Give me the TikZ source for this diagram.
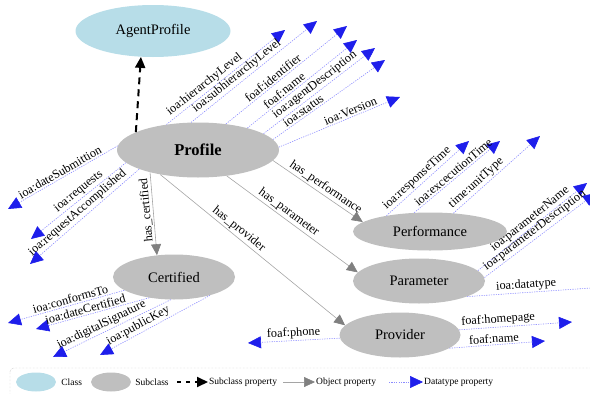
\documentclass[tikz,border=0pt]{standalone}
\usepackage{fontspec}
\setmainfont{Liberation Serif}
\usetikzlibrary{arrows.meta,positioning,shapes.geometric}

\definecolor{classblue}{RGB}{183,221,232}
\definecolor{subgray}{RGB}{191,191,191}
\definecolor{dtblue}{RGB}{30,30,235}
\definecolor{dtline}{RGB}{140,140,255}
\definecolor{objline}{RGB}{165,165,165}
\definecolor{objhead}{RGB}{128,128,128}

\tikzset{
  classnode/.style={ellipse, fill=classblue, inner sep=0pt, font=\fontsize{14.5}{16}\selectfont},
  subnode/.style={ellipse, fill=subgray, inner sep=0pt, font=\fontsize{14.5}{16}\selectfont},
  subprop/.style={black, line width=2pt, dash pattern=on 7pt off 5pt, -{Triangle[length=11pt,width=10pt]}},
  objprop/.style={objline, line width=0.6pt, -{Triangle[length=11pt,width=10pt,color=objhead]}},
  dataprop/.style={dtline, line width=0.6pt, dash pattern=on 1.2pt off 1.2pt, -{Triangle[length=13pt,width=12pt,color=dtblue]}},
  proplabel/.style={text=black, font=\fontsize{12.3}{14}\selectfont, inner sep=1.5pt},
  legendtext/.style={text=black, font=\fontsize{9.5}{11}\selectfont, inner sep=1pt, anchor=west},
}

\begin{document}
\begin{tikzpicture}[x=1pt, y=-1pt]
\useasboundingbox (0,0) rectangle (590,394);

\node[classnode, minimum width=155pt, minimum height=52pt] (agent) at (153,31) {AgentProfile};
\node[subnode, minimum width=162pt, minimum height=55pt, font=\fontsize{16.5}{18}\selectfont\bfseries] (prof) at (198,150) {Profile};
\node[subnode, minimum width=122pt, minimum height=45pt] (cert) at (174,277) {Certified};
\node[subnode, minimum width=154pt, minimum height=38pt] (perf) at (430,231.5) {Performance};
\node[subnode, minimum width=132pt, minimum height=45pt] (param) at (419,281) {Parameter};
\node[subnode, minimum width=121pt, minimum height=45pt] (prov) at (400,335) {Provider};

\draw[subprop] (prof.164) -- (agent.245);

\draw[objprop] (prof.205) -- (cert.128) node[proplabel, pos=.45, rotate=95, anchor=south] {has\_certified};
\draw[objprop] (prof.213) -- (prov.170) node[proplabel, pos=.4, sloped, above] {has\_provider};
\draw[objprop] (prof.318) -- (param.172) node[proplabel, pos=.44, sloped, above] {has\_parameter};
\draw[objprop] (prof.352) -- (perf.172) node[proplabel, pos=.54, sloped, above] {has\_performance};

\foreach \n/\x/\y in {tphl/285/30, tpshl/317/21, tpid/347/26, tpfn/357/40, tpad/375/48,
    tpst/385/60, tpver/400/97, tpds/8/209, tprq/31/239, tpra/30/264,
    tpct/8/323, tpdc/36/329, tpsig/53/357, tppk/100/355,
    tprt/469/141, tpet/500/141, tput/540/136,
    tppn/587/183, tppd/596/193, tpdt/620/286,
    tpph/248/343, tphp/572/322, tpnm/545/341}
  \coordinate (\n) at (\x,\y);

\foreach \src/\ang/\tip/\lbl/\p in {
    prof/141/tphl/ioa:hierarchyLevel/.36, prof/104/tpshl/ioa:subhierarchyLevel/.40,
    prof/43/tpid/foaf:identifier/.42, prof/24/tpfn/foaf:name/.37,
    prof/14/tpad/ioa:agentDescription/.5, prof/8/tpst/ioa:status/.3,
    prof/2/tpver/ioa:Version/.61, prof/177/tpds/ioa:dateSubmittion/.5,
    prof/190/tprq/ioa:requests/.45, prof/198/tpra/ioa:requestAccomplished/.52,
    cert/195/tpct/ioa:conformsTo/.45, cert/220/tpdc/ioa:dateCertified/.55,
    cert/262/tpsig/ioa:digitalSignature/.56, cert/333/tppk/ioa:publicKey/.62,
    perf/160/tprt/ioa:responseTime/.43, perf/130/tpet/ioa:excecutionTime/.5,
    perf/38/tput/time:unitType/.32,
    param/10/tppn/ioa:parameterName/.52, param/3/tppd/ioa:parameterDescription/.49,
    param/-18/tpdt/ioa:datatype/.39,
    prov/183/tpph/foaf:phone/.5, prov/5/tphp/foaf:homepage/.35, prov/-15/tpnm/foaf:name/.47}
  \draw[dataprop] (\src.\ang) -- (\tip) node[proplabel, pos=\p, sloped, above] {\lbl};

\draw[gray!70, densely dotted, rounded corners=4pt] (10,368) rectangle (600,398);
\node[classnode, minimum width=40pt, minimum height=19pt] (lgclass) at (36,382) {};
\node[legendtext, right=4pt of lgclass] (lgclasstxt) {Class};
\node[subnode, minimum width=40pt, minimum height=19pt] (lgsub) at (111,382) {};
\node[legendtext, right=3pt of lgsub] (lgsubtxt) {Subclass};
\coordinate (lgsubstart) at (177,382);
\node[legendtext] (lgsubproptxt) at (208,382) {Subclass property};
\draw[subprop, dash pattern=on 4pt off 5pt] (lgsubstart) -- (lgsubproptxt.west);
\coordinate (lgobjstart) at (283,382);
\node[legendtext] (lgobjtxt) at (315,382) {Object property};
\draw[objprop] (lgobjstart) -- (lgobjtxt.west);
\coordinate (lgdtstart) at (389,382);
\node[legendtext] (lgdttxt) at (423,382) {Datatype property};
\draw[dataprop] (lgdtstart) -- (lgdttxt.west);
\end{tikzpicture}
\end{document}
